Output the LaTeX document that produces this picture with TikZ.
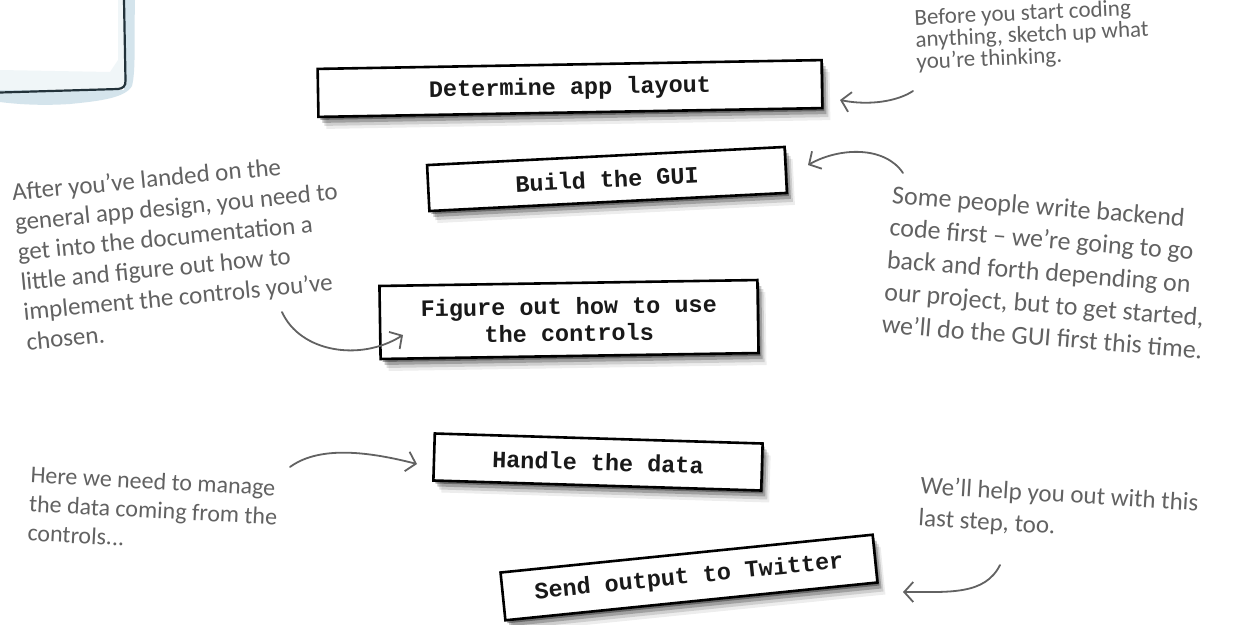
\documentclass[tikz,border=0pt]{standalone}
\usepackage{fontspec}
\newfontfamily\handfont{Carlito}
\newfontfamily\boxmono{Liberation Mono}
\usetikzlibrary{arrows.meta,shadows}
\definecolor{handgray}{HTML}{626262}
\definecolor{inkline}{HTML}{22323A}
\definecolor{wash}{HTML}{C6DCE6}
\tikzset{
  stepbox/.style={draw=black, line width=2.6pt, fill=white, inner sep=0pt,
    font=\boxmono\bfseries\fontsize{23.5}{27}\selectfont, align=center, text=black!90,
    drop shadow={shadow xshift=2pt, shadow yshift=-3pt, opacity=0.34, fill=black},
    drop shadow={shadow xshift=4pt, shadow yshift=-6pt, opacity=0.22, fill=black},
    drop shadow={shadow xshift=6pt, shadow yshift=-9pt, opacity=0.13, fill=black},
    drop shadow={shadow xshift=8pt, shadow yshift=-12pt, opacity=0.07, fill=black}},
  note/.style={text=handgray, font=\handfont\fontsize{25}{30}\selectfont, align=left,
    inner sep=0pt, anchor=north west},
  pointer/.style={draw=handgray, line width=1.8pt, line cap=round, line join=round,
    -{Straight Barb[length=9pt,width=20pt,line width=1.8pt]}}
}
\begin{document}
\begin{tikzpicture}[x=1pt,y=-1pt]
\fill[white] (0,0) rectangle (1233,624);
\useasboundingbox (0,0) rectangle (1233,624);

% sketch sheet in the top-left corner
\fill[wash, opacity=0.75] (0,82) .. controls (40,80) and (100,82) .. (118,78) -- (119,0) -- (135,0)
  .. controls (134,40) and (136,70) .. (132,86) .. controls (125,98) and (100,101) .. (70,104)
  .. controls (40,106) and (15,104) .. (0,102) -- cycle;
\fill[white] (0,0) rectangle (124,90);
\fill[wash, opacity=0.25] (0,70) -- (110,72) -- (118,60) -- (118,0) -- (124,0) -- (125,88) -- (0,91) -- cycle;
\draw[inkline, line width=2.2pt, line cap=round] (124,0) -- (125.5,80) .. controls (126,86) and (123,88.5) .. (118,89) -- (0,92.5);

% step boxes
\node[stepbox, minimum width=504pt, minimum height=48pt, rotate=1.0] (layout) at (570,88.5) {Determine app layout};
\node[stepbox, minimum width=358pt, minimum height=46pt, rotate=2.9] (gui) at (607,179) {Build the GUI};
\node[stepbox, minimum width=378pt, minimum height=73pt, rotate=0.9] (controls) at (569,319.5) {Figure out how to use\\the controls};
\node[stepbox, minimum width=328pt, minimum height=47pt, rotate=-1.75] (data) at (598,462) {Handle the data};
\node[stepbox, minimum width=374pt, minimum height=48pt, rotate=5.8] (twitter) at (689,577.5) {Send output to Twitter};

% handwritten notes
\node[note, rotate=2.6, font=\handfont\fontsize{23}{22}\selectfont] (before) at (914,9)
  {Before you start coding\\anything, sketch up what\\you’re thinking.};
\node[note, rotate=5.5] (after) at (11,183)
  {After you’ve landed on the\\general app design, you need to\\get into the documentation a\\little and figure out how to\\implement the controls you’ve\\chosen.};
\node[note, rotate=-4.6, font=\handfont\fontsize{26}{32.5}\selectfont] (backend) at (893,185)
  {Some people write backend\\code first – we’re going to go\\back and forth depending on\\our project, but to get started,\\we’ll do the GUI first this time.};
\node[note, rotate=-3, font=\handfont\fontsize{24}{29}\selectfont] (manage) at (31,466)
  {Here we need to manage\\the data coming from the\\controls...};
\node[note, rotate=-3.5, font=\handfont\fontsize{25}{32}\selectfont] (help) at (921,476)
  {We’ll help you out with this\\last step, too.};

% connector ends
\coordinate (beforeS) at (913,91);
\coordinate (layoutT) at (840,100);
\coordinate (backendS) at (903,173);
\coordinate (guiT) at (808,165);
\coordinate (afterS) at (282,312);
\coordinate (controlsT) at (403,335);
\coordinate (manageS) at (290,467);
\coordinate (dataT) at (417,464);
\coordinate (helpS) at (1000,565);
\coordinate (twitterT) at (903,592);

\draw[pointer] (beforeS) .. controls (898,101) and (870,106) .. (layoutT);
\draw[pointer] (backendS) .. controls (885,146) and (840,147) .. (guiT);
\draw[pointer] (afterS) .. controls (300,352) and (360,362) .. (controlsT);
\draw[pointer] (manageS) .. controls (320,445) and (370,452) .. (dataT);
\draw[pointer] (helpS) .. controls (985,595) and (950,592) .. (twitterT);
\end{tikzpicture}
\end{document}
